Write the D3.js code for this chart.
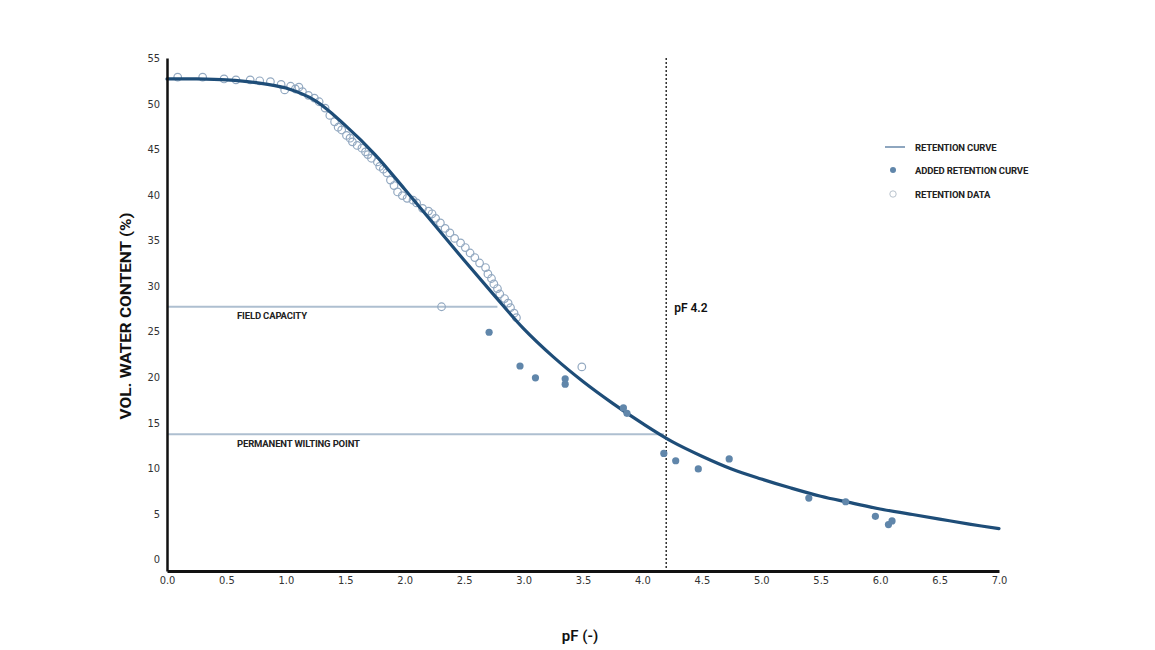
<!DOCTYPE html>
<html>
<head>
<meta charset="utf-8">
<script src="https://cdn.jsdelivr.net/npm/d3@7"></script>
<style>
  body { margin: 0; background: #fff; }
  svg { display: block; }
</style>
</head>
<body>
<div id="chart"></div>
<script>
// curve (pF, vol. water content)
var curvePF    = [0.0, 0.25, 0.5, 0.75, 1.0, 1.25, 1.5, 1.75, 2.0, 2.25, 2.5, 2.75, 3.0, 3.25, 3.5,
                  3.75, 4.0, 4.25, 4.5, 4.75, 5.0, 5.25, 5.5, 5.75, 6.0, 6.25, 6.5, 6.75, 7.0];
var curveTheta = [52.7, 52.7, 52.6, 52.3, 51.7, 50.3, 47.6, 44.4, 40.6, 36.7, 32.8, 29.0, 25.3, 22.2, 19.5,
                  17.1, 14.9, 12.9, 11.3, 9.9, 8.8, 7.8, 6.9, 6.2, 5.5, 4.95, 4.4, 3.85, 3.35];

// added retention curve (filled dots)
var addedPF    = [2.71, 2.97, 3.10, 3.35, 3.35, 3.84, 3.87, 4.18, 4.28, 4.47, 4.73, 5.40, 5.71, 5.96, 6.07, 6.10];
var addedTheta = [24.9, 21.2, 19.9, 19.8, 19.2, 16.6, 16.0, 11.6, 10.8, 9.9, 11.0, 6.7, 6.3, 4.7, 3.8, 4.2];

// retention data (open circles)
var dataPF    = [0.09, 0.30, 0.48, 0.58, 0.70, 0.78, 0.87, 0.96, 0.99, 1.04, 1.08, 1.11, 1.14, 1.19, 1.24,
                 1.28, 1.33, 1.37, 1.41, 1.44, 1.47, 1.51, 1.54, 1.56, 1.60, 1.64, 1.67, 1.69, 1.72, 1.77,
                 1.79, 1.82, 1.85, 1.88, 1.91, 1.94, 1.98, 2.02, 2.07, 2.10, 2.15, 2.20, 2.23, 2.26, 2.30,
                 2.34, 2.38, 2.42, 2.47, 2.51, 2.55, 2.59, 2.63, 2.68, 2.70, 2.73, 2.75, 2.78, 2.80, 2.84,
                 2.87, 2.89, 2.92, 2.94, 2.31, 3.49];
var dataTheta = [52.9, 52.9, 52.7, 52.6, 52.6, 52.5, 52.4, 52.1, 51.5, 51.9, 51.6, 51.8, 51.3, 50.9, 50.6,
                 50.2, 49.5, 48.7, 48.0, 47.4, 47.1, 46.5, 46.2, 45.8, 45.4, 45.1, 44.7, 44.4, 44.0, 43.6,
                 43.1, 42.8, 42.4, 41.6, 41.0, 40.3, 39.9, 39.6, 39.4, 39.1, 38.5, 38.2, 37.9, 37.4, 36.9,
                 36.3, 35.8, 35.2, 34.7, 34.2, 33.6, 33.1, 32.5, 32.0, 31.3, 30.8, 30.2, 29.7, 29.1, 28.6,
                 28.1, 27.6, 27.0, 26.5, 27.7, 21.1];

var xTicks = [0, 0.5, 1, 1.5, 2, 2.5, 3, 3.5, 4, 4.5, 5, 5.5, 6, 6.5, 7];
var yTicks = [0, 5, 10, 15, 20, 25, 30, 35, 40, 45, 50, 55];

// reference lines
var fieldCapacity = {label: "FIELD CAPACITY", theta: 27.7, toPF: 2.78};
var wiltingPoint  = {label: "PERMANENT WILTING POINT", theta: 13.7, toPF: 4.18};
var pf42 = 4.2;

var legendItems = ["RETENTION CURVE", "ADDED RETENTION CURVE", "RETENTION DATA"];

var width = 1155;
var height = 650;

var lineColor = "#1e4d78";
var dotColor = "#6086aa";
var openColor = "#93a9c1";
var refColor = "#aebfd0";
var tickFont = "'Liberation Sans Narrow', 'DejaVu Sans Condensed', sans-serif";
var titleFont = "Roboto, 'Noto Sans', sans-serif";

var x = d3.scaleLinear().domain([0, 7]).range([167, 999]);
var y = d3.scaleLinear().domain([-1.3, 55]).range([571, 58]);

var svg = d3.select("#chart").append("svg")
    .attr("width", width)
    .attr("height", height);

// field capacity + wilting point
[fieldCapacity, wiltingPoint].forEach(function (r) {
    svg.append("line")
        .attr("x1", x(0)).attr("x2", x(r.toPF))
        .attr("y1", y(r.theta)).attr("y2", y(r.theta))
        .attr("stroke", refColor)
        .attr("stroke-width", 2);
    svg.append("text")
        .text(r.label)
        .attr("x", 237)
        .attr("y", y(r.theta) + 12.5)
        .attr("font-family", titleFont)
        .attr("font-weight", 700)
        .attr("font-size", "9.5px")
        .attr("letter-spacing", "-0.15px")
        .attr("fill", "#222");
});

// pF 4.2 dashed line
svg.append("line")
    .attr("x1", x(pf42)).attr("x2", x(pf42))
    .attr("y1", y(55)).attr("y2", y(-1.3))
    .attr("stroke", "#111")
    .attr("stroke-width", 1.3)
    .attr("stroke-dasharray", "2,2");
svg.append("text")
    .text("pF 4.2")
    .attr("x", x(pf42) + 8)
    .attr("y", 312)
    .attr("font-family", titleFont)
    .attr("font-weight", 600)
    .attr("font-size", "12px")
    .attr("fill", "#111");

// open retention data
var openPts = dataPF.map(function (d, i) { return [d, dataTheta[i]]; });
svg.append("g").selectAll("circle")
    .data(openPts)
    .enter()
    .append("circle")
    .attr("cx", function (d) { return x(d[0]); })
    .attr("cy", function (d) { return y(d[1]); })
    .attr("r", 3.8)
    .attr("fill", "none")
    .attr("stroke", openColor)
    .attr("stroke-width", 1.2);

// retention curve
var curvePts = curvePF.map(function (d, i) { return [d, curveTheta[i]]; });
var line = d3.line()
    .x(function (d) { return x(d[0]); })
    .y(function (d) { return y(d[1]); })
    .curve(d3.curveCatmullRom.alpha(0.5));
svg.append("path")
    .datum(curvePts)
    .attr("d", line)
    .attr("fill", "none")
    .attr("stroke", lineColor)
    .attr("stroke-width", 3.2)
    .attr("stroke-linecap", "round");

// added retention curve dots
var addedPts = addedPF.map(function (d, i) { return [d, addedTheta[i]]; });
svg.append("g").selectAll("circle")
    .data(addedPts)
    .enter()
    .append("circle")
    .attr("cx", function (d) { return x(d[0]); })
    .attr("cy", function (d) { return y(d[1]); })
    .attr("r", 3.6)
    .attr("fill", dotColor);

// axes (no tick marks, just the lines and labels)
var xAxis = svg.append("g")
    .attr("transform", "translate(0," + y(-1.3) + ")")
    .call(d3.axisBottom(x).tickValues(xTicks).tickSize(0).tickPadding(5)
        .tickFormat(function (d) { return d.toFixed(1); }));
xAxis.select(".domain").attr("stroke", "#111").attr("stroke-width", 3);
xAxis.selectAll("text")
    .attr("font-family", tickFont)
    .attr("font-size", "11px")
    .attr("fill", "#333");

var yAxis = svg.append("g")
    .attr("transform", "translate(" + x(0) + ",0)")
    .call(d3.axisLeft(y).tickValues(yTicks).tickSize(0).tickPadding(7));
yAxis.select(".domain").attr("stroke", "#111").attr("stroke-width", 2.5);
yAxis.selectAll("text")
    .attr("font-family", tickFont)
    .attr("font-size", "11px")
    .attr("fill", "#333");

// axis titles
svg.append("text")
    .text("pF (-)")
    .attr("x", 580)
    .attr("y", 641)
    .attr("text-anchor", "middle")
    .attr("font-family", titleFont)
    .attr("font-weight", 600)
    .attr("font-size", "15px")
    .attr("fill", "#111");

svg.append("text")
    .text("VOL. WATER CONTENT (%)")
    .attr("transform", "translate(131,316) rotate(-90)")
    .attr("text-anchor", "middle")
    .attr("font-family", titleFont)
    .attr("font-weight", 700)
    .attr("font-size", "15px")
    .attr("textLength", 207)
    .attr("lengthAdjust", "spacingAndGlyphs")
    .attr("fill", "#111");

// legend
var legend = svg.append("g").attr("transform", "translate(885,147)");
legend.append("line")
    .attr("x1", 0).attr("x2", 20)
    .attr("y1", 0).attr("y2", 0)
    .attr("stroke", "#8ea6bf")
    .attr("stroke-width", 2);
legend.append("circle")
    .attr("cx", 8).attr("cy", 23).attr("r", 3)
    .attr("fill", dotColor);
legend.append("circle")
    .attr("cx", 8).attr("cy", 47).attr("r", 3.2)
    .attr("fill", "none")
    .attr("stroke", "#b9c3cd")
    .attr("stroke-width", 1);
legend.selectAll("text")
    .data(legendItems)
    .enter()
    .append("text")
    .text(function (d) { return d; })
    .attr("x", 30)
    .attr("y", function (d, i) { return i * 23.5 + 3.5; })
    .attr("font-family", titleFont)
    .attr("font-weight", 700)
    .attr("font-size", "9.5px")
    .attr("letter-spacing", "-0.15px")
    .attr("fill", "#222");
</script>
</body>
</html>
